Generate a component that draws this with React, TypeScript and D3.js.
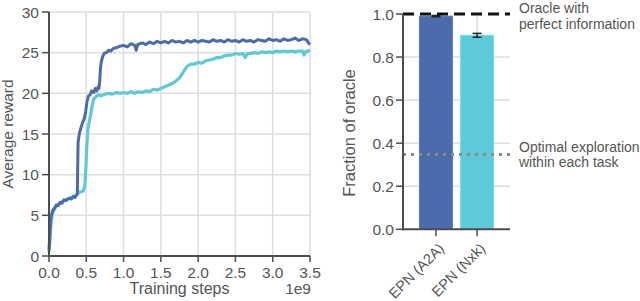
import * as d3 from 'd3'

// Learning curves (steps in units of 1e9)
const A2A_STEPS = [0, 0.01, 0.02, 0.03, 0.05, 0.075, 0.1, 0.125, 0.15, 0.175, 0.2, 0.225, 0.25, 0.275, 0.3, 0.325, 0.35, 0.37, 0.38, 0.385, 0.39, 0.41, 0.43, 0.45, 0.47, 0.49, 0.51, 0.53, 0.55, 0.57, 0.6, 0.62, 0.64, 0.66, 0.67, 0.68, 0.69, 0.7, 0.72, 0.74, 0.77, 0.8, 0.83, 0.86, 0.9, 0.95, 1.0, 1.05, 1.1, 1.15, 1.17, 1.19, 1.25, 1.3, 1.35, 1.4, 1.45, 1.5, 1.55, 1.6, 1.65, 1.7, 1.75, 1.8, 1.85, 1.9, 1.95, 2.0, 2.05, 2.1, 2.15, 2.2, 2.25, 2.3, 2.35, 2.4, 2.45, 2.5, 2.55, 2.6, 2.65, 2.7, 2.75, 2.8, 2.85, 2.9, 2.95, 3.0, 3.05, 3.1, 3.15, 3.2, 3.25, 3.3, 3.35, 3.4, 3.45, 3.48, 3.5]
const A2A_REWARD = [0.8, 2.5, 4.2, 5.0, 5.6, 5.9, 6.3, 6.2, 6.6, 6.5, 6.9, 6.8, 7.0, 7.1, 7.0, 7.3, 7.2, 7.5, 7.6, 11.0, 14.0, 15.2, 15.8, 16.4, 16.8, 17.6, 19.0, 19.7, 19.8, 20.3, 20.1, 20.6, 20.3, 20.8, 20.6, 21.5, 23.0, 23.8, 24.5, 24.9, 25.0, 25.3, 25.2, 25.5, 25.6, 25.8, 25.9, 25.7, 26.1, 25.9, 25.3, 26.0, 26.2, 26.0, 26.3, 26.1, 26.4, 26.2, 26.4, 26.2, 26.5, 26.3, 26.4, 26.2, 26.5, 26.3, 26.5, 26.3, 26.5, 26.4, 26.3, 26.6, 26.4, 26.5, 26.3, 26.6, 26.4, 26.5, 26.3, 26.6, 26.4, 26.5, 26.3, 26.6, 26.5, 26.4, 26.7, 26.5, 26.6, 26.4, 26.7, 26.5, 26.6, 26.8, 26.5, 26.7, 26.6, 26.2, 26.0]

const NXK_STEPS = [0, 0.01, 0.02, 0.03, 0.05, 0.075, 0.1, 0.15, 0.2, 0.25, 0.3, 0.35, 0.4, 0.43, 0.46, 0.48, 0.49, 0.5, 0.51, 0.52, 0.54, 0.56, 0.58, 0.6, 0.63, 0.66, 0.7, 0.75, 0.8, 0.85, 0.9, 0.95, 1.0, 1.05, 1.1, 1.15, 1.2, 1.25, 1.3, 1.35, 1.4, 1.45, 1.5, 1.55, 1.6, 1.65, 1.7, 1.75, 1.8, 1.85, 1.9, 1.95, 2.0, 2.05, 2.1, 2.15, 2.2, 2.25, 2.3, 2.35, 2.4, 2.45, 2.5, 2.55, 2.6, 2.63, 2.66, 2.7, 2.75, 2.8, 2.85, 2.9, 2.95, 3.0, 3.05, 3.1, 3.15, 3.2, 3.25, 3.3, 3.35, 3.4, 3.42, 3.44, 3.5]
const NXK_REWARD = [0.5, 1.5, 3.0, 4.3, 5.3, 5.8, 6.1, 6.5, 6.8, 7.0, 7.2, 7.4, 7.8, 7.9, 8.0, 8.6, 10.0, 12.0, 14.0, 15.5, 16.5, 17.5, 18.6, 19.3, 19.6, 19.8, 19.7, 19.9, 20.0, 19.9, 20.1, 20.0, 20.1, 20.0, 20.2, 20.0, 20.2, 20.1, 20.3, 20.2, 20.5, 20.4, 20.6, 20.8, 21.0, 21.2, 21.5, 21.9, 22.6, 23.3, 23.6, 23.6, 23.8, 23.7, 24.0, 24.1, 24.2, 24.4, 24.4, 24.6, 24.7, 24.7, 24.9, 24.8, 24.9, 24.4, 24.9, 24.9, 25.0, 24.9, 25.1, 25.0, 25.1, 25.0, 25.2, 25.1, 25.2, 25.1, 25.2, 25.1, 25.2, 25.2, 24.7, 25.1, 25.3]

const X_TICKS = [0, 0.5, 1.0, 1.5, 2.0, 2.5, 3.0, 3.5]
const Y_TICKS = [0, 5, 10, 15, 20, 25, 30]

// Bar panel
const AGENTS = ['EPN (A2A)', 'EPN (Nxk)']
const FRACTION = [0.99, 0.901]
const FRACTION_ERR = [0.003, 0.009]
const FRAC_TICKS = [0, 0.2, 0.4, 0.6, 0.8, 1.0]
const ORACLE = 1.0
const OPTIMAL_EXPLORATION = 0.348

const COLORS = ['#4a6cad', '#5ecad9']
const FONT = 'Liberation Sans, Arial, Helvetica, sans-serif'
const TEXT = '#555'
const AXIS = '#4d4d4d'
const GRID = '#dedede'

export default function App() {
  const x = d3.scaleLinear().domain([0, 3.5]).range([49, 310])
  const y = d3.scaleLinear().domain([0, 30]).range([256, 12])

  const line = d3.line<[number, number]>()
    .x(d => x(d[0]))
    .y(d => y(d[1]))

  const a2a = A2A_STEPS.map((s, i) => [s, A2A_REWARD[i]] as [number, number])
  const nxk = NXK_STEPS.map((s, i) => [s, NXK_REWARD[i]] as [number, number])

  const yb = d3.scaleLinear().domain([0, 1]).range([229.3, 14])
  const xb = d3.scaleBand().domain(AGENTS).range([403, 510]).paddingInner(0.2).paddingOuter(0.4)

  return (
    <div style={{ position: 'absolute', left: 0, top: 0 }}>
      <svg width={640} height={301} style={{ display: 'block' }} fontFamily={FONT}>
        {/* ---- left panel: learning curves ---- */}
        {X_TICKS.map(t => (
          <line key={`gx${t}`} x1={x(t)} x2={x(t)} y1={y(30)} y2={y(0)} stroke={GRID} strokeWidth={1.5} />
        ))}
        {Y_TICKS.map(t => (
          <line key={`gy${t}`} x1={x(0)} x2={x(3.5)} y1={y(t)} y2={y(t)} stroke={GRID} strokeWidth={1.5} />
        ))}

        <path d={line(nxk) || ''} fill="none" stroke={COLORS[1]} strokeWidth={3.2} strokeLinejoin="round" />
        <path d={line(a2a) || ''} fill="none" stroke={COLORS[0]} strokeWidth={3} strokeLinejoin="round" />

        <line x1={x(0)} x2={x(0)} y1={y(30)} y2={y(0) + 1} stroke={AXIS} strokeWidth={2} />
        <line x1={x(0) - 1} x2={x(3.5)} y1={y(0)} y2={y(0)} stroke={AXIS} strokeWidth={2} />

        {Y_TICKS.map(t => (
          <g key={`ty${t}`}>
            <line x1={x(0) - 7} x2={x(0)} y1={y(t)} y2={y(t)} stroke={AXIS} strokeWidth={1.5} />
            <text x={x(0) - 10} y={y(t)} textAnchor="end" dominantBaseline="central" fontSize={15.5} fill={TEXT}>{t}</text>
          </g>
        ))}
        {X_TICKS.map(t => (
          <g key={`tx${t}`}>
            <line x1={x(t)} x2={x(t)} y1={y(0)} y2={y(0) + 6} stroke={AXIS} strokeWidth={1.5} />
            <text x={x(t)} y={278} textAnchor="middle" fontSize={15.5} fill={TEXT}>{t.toFixed(1)}</text>
          </g>
        ))}
        <text x={(x(0) + x(3.5)) / 2} y={294} textAnchor="middle" fontSize={16} fill={TEXT}>Training steps</text>
        <text x={x(3.5) + 1} y={294} textAnchor="end" fontSize={15.5} fill={TEXT}>1e9</text>
        <text transform={`translate(12.5, ${(y(0) + y(30)) / 2}) rotate(-90)`} textAnchor="middle" fontSize={15.5} fill={TEXT}>Average reward</text>

        {/* ---- right panel: fraction of oracle ---- */}
        {FRAC_TICKS.slice(1, -1).map(t => (
          <line key={`gb${t}`} x1={403} x2={510} y1={yb(t)} y2={yb(t)} stroke={GRID} strokeWidth={1.5} />
        ))}
        {AGENTS.map(a => (
          <line key={`gv${a}`} x1={xb(a)! + xb.bandwidth() / 2} x2={xb(a)! + xb.bandwidth() / 2} y1={yb(1)} y2={yb(0)} stroke={GRID} strokeWidth={1.5} />
        ))}

        {AGENTS.map((a, i) => (
          <rect key={`bar${a}`} x={xb(a)} width={xb.bandwidth()} y={yb(FRACTION[i])} height={yb(0) - yb(FRACTION[i])}
            fill={COLORS[i]} stroke={d3.color(COLORS[i])!.brighter(0.3).toString()} strokeWidth={1} />
        ))}
        {AGENTS.map((a, i) => {
          const cx = xb(a)! + xb.bandwidth() / 2
          const lo = yb(FRACTION[i] - FRACTION_ERR[i])
          const hi = yb(FRACTION[i] + FRACTION_ERR[i])
          return (
            <g key={`err${a}`} stroke="#222" strokeWidth={1.5}>
              <line x1={cx} x2={cx} y1={lo} y2={hi} />
              <line x1={cx - 4.5} x2={cx + 4.5} y1={lo} y2={lo} />
              <line x1={cx - 4.5} x2={cx + 4.5} y1={hi} y2={hi} />
            </g>
          )
        })}

        <line x1={403} x2={510} y1={yb(OPTIMAL_EXPLORATION)} y2={yb(OPTIMAL_EXPLORATION)} stroke="#8c8c8c" strokeWidth={3} strokeDasharray="3,5" />
        <line x1={403} x2={510} y1={yb(ORACLE)} y2={yb(ORACLE)} stroke="#111" strokeWidth={3} strokeDasharray="11,6" />

        <line x1={403} x2={403} y1={yb(1)} y2={yb(0) + 1} stroke={AXIS} strokeWidth={2} />
        <line x1={402} x2={510} y1={yb(0)} y2={yb(0)} stroke={AXIS} strokeWidth={2} />

        {FRAC_TICKS.map(t => (
          <g key={`tb${t}`}>
            <line x1={396} x2={403} y1={yb(t)} y2={yb(t)} stroke={AXIS} strokeWidth={1.5} />
            <text x={394} y={yb(t)} textAnchor="end" dominantBaseline="central" fontSize={15.5} fill={TEXT}>{t.toFixed(1)}</text>
          </g>
        ))}
        {AGENTS.map(a => {
          const cx = xb(a)! + xb.bandwidth() / 2
          return (
            <g key={`tc${a}`}>
              <line x1={cx} x2={cx} y1={yb(0)} y2={yb(0) + 7} stroke={AXIS} strokeWidth={1.5} />
              <text transform={`translate(${cx + 9}, ${yb(0) + 20}) rotate(-45)`} textAnchor="end" fontSize={14.5} fill={TEXT}>{a}</text>
            </g>
          )
        })}
        <text transform={`translate(355, 133) rotate(-90)`} textAnchor="middle" fontSize={16.5} fill={TEXT}>Fraction of oracle</text>

        <text x={519} y={12.5} fontSize={14} fill={TEXT}>Oracle with</text>
        <text x={519} y={28.5} fontSize={14} fill={TEXT}>perfect information</text>
        <text x={519} y={151.5} fontSize={14} fill={TEXT}>Optimal exploration</text>
        <text x={519} y={167} fontSize={14} fill={TEXT}>within each task</text>
      </svg>
    </div>
  )
}
